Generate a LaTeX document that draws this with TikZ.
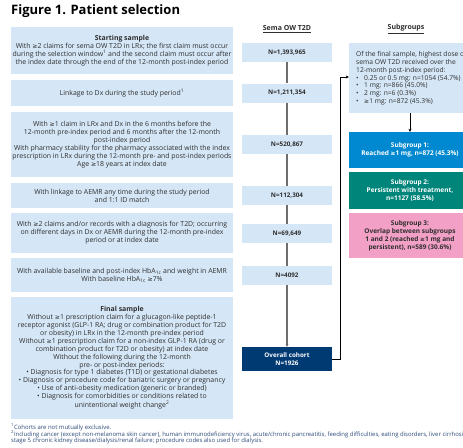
\documentclass[tikz,border=0pt]{standalone}
\usepackage{fontspec}
\setmainfont{Open Sans}
\newfontfamily\symf{DejaVu Sans}
\newcommand\gsym{{\symf\scalebox{0.9}{≥}}}
\usetikzlibrary{arrows.meta}
\definecolor{lb}{HTML}{D5E7F7}
\definecolor{txt}{HTML}{2E2E2E}
\definecolor{navy}{HTML}{003A73}
\definecolor{sgone}{HTML}{0089D1}
\definecolor{sgtwo}{HTML}{00857A}
\definecolor{sgthree}{HTML}{F2A0C6}
\definecolor{fnote}{HTML}{2B4A7A}
\definecolor{gline}{HTML}{6E6E6E}
\begin{document}
\begin{tikzpicture}[x=1pt,y=-1pt,
  lbox/.style={fill=lb, draw=none, inner sep=0pt, align=center, text=txt,
    font=\fontsize{6.9}{7.9}\selectfont, minimum width=222},
  mbox/.style={fill=lb, draw=none, inner sep=0pt, align=center, text=txt,
    font=\bfseries\fontsize{6.3}{7.9}\selectfont, minimum width=90, minimum height=19},
  sgbox/.style={draw=none, inner sep=0pt, align=center, text=white,
    font=\bfseries\fontsize{6.5}{7.9}\selectfont, minimum width=122},
  hdr/.style={inner sep=0pt, text=txt, font=\bfseries\fontsize{7}{8}\selectfont},
  grayline/.style={draw=gline, line width=1.3pt},
  blackline/.style={draw=black, line width=0.9pt},
  fn/.style={inner sep=0pt, anchor=west, text=fnote, font=\fontsize{5.95}{6.5}\selectfont}
]
\useasboundingbox (0,0) rectangle (463,447);
\fill[white] (0,0) rectangle (463,447);

% title
\node[anchor=west, inner sep=0pt, text=black, font=\bfseries\fontsize{13}{14}\selectfont] (title) at (11,11) {Figure 1. Patient selection};

% headers
\node[hdr] (h1) at (287,29) {\underline{Sema OW T2D}};
\node[hdr] (h2) at (406,29) {\underline{Subgroups}};

% left boxes
\node[lbox, minimum height=47] (l1) at (122,50.5) {\textbf{Starting sample}\\With \gsym2 claims for sema OW T2D in LRx; the first claim must occur\\during the selection window\textsuperscript{1} and the second claim must occur after\\the index date through the end of the 12-month post-index period};
\node[lbox, minimum height=26] (l2) at (122,93) {Linkage to Dx during the study period\textsuperscript{1}};
\node[lbox, minimum height=65] (l3) at (122,144.5) {With \gsym1 claim in LRx and Dx in the 6 months before the\\12-month pre-index period and 6 months after the 12-month\\post-index period\\With pharmacy stability for the pharmacy associated with the index\\prescription in LRx during the 12-month pre- and post-index periods\\Age \gsym18 years at index date};
\node[lbox, minimum height=25] (l4) at (122,195.5) {With linkage to AEMR any time during the study period\\and 1:1 ID match};
\node[lbox, minimum height=40] (l5) at (122,233) {With \gsym2 claims and/or records with a diagnosis for T2D; occurring\\on different days in Dx or AEMR during the 12-month pre-index\\period or at index date};
\node[lbox, minimum height=34] (l6) at (122,275) {With available baseline and post-index HbA\textsubscript{1c} and weight in AEMR\\With baseline HbA\textsubscript{1c} \gsym7\%};
\node[lbox, minimum height=122] (l7) at (122,358) {\textbf{Final sample}\\Without \gsym1 prescription claim for a glucagon-like peptide-1\\receptor agonist (GLP-1 RA; drug or combination product for T2D\\or obesity) in LRx in the 12-month pre-index period\\Without \gsym1 prescription claim for a non-index GLP-1 RA (drug or\\combination product for T2D or obesity) at index date\\Without the following during the 12-month\\pre- or post-index periods:\\• Diagnosis for type 1 diabetes (T1D) or gestational diabetes\\• Diagnosis or procedure code for bariatric surgery or pregnancy\\• Use of anti-obesity medication (generic or branded)\\• Diagnosis for comorbidities or conditions related to\\unintentional weight change\textsuperscript{2}};

% middle boxes
\node[mbox] (m1) at (287,52.5) {N=1,393,965};
\node[mbox] (m2) at (287,93) {N=1,211,354};
\node[mbox] (m3) at (287,144.5) {N=520,867};
\node[mbox] (m4) at (287,195.5) {N=112,304};
\node[mbox] (m5) at (287,233.5) {N=69,649};
\node[mbox] (m6) at (287,275.5) {N=4092};
\node[mbox, fill=navy, text=white, minimum height=24] (mo) at (287,359) {Overall cohort\\N=1926};

\draw[grayline] (m1) -- (m2);
\draw[grayline] (m2) -- (m3);
\draw[grayline] (m3) -- (m4);
\draw[grayline] (m4) -- (m5);
\draw[grayline] (m5) -- (m6);
\draw[grayline, -{Stealth[length=3pt,width=3pt]}] (m6) -- (mo);

% subgroups
\node[fill=lb, draw=none, inner sep=0pt, minimum width=122, minimum height=70] (sg) at (410,78) {};
\node[anchor=north west, inner sep=0pt, align=left, text=txt, font=\fontsize{6.7}{7.9}\selectfont] (sgt) at (356,51) {Of the final sample, highest dose of\\sema OW T2D received over the\\12-month post-index period:\\\makebox[8pt][l]{•}0.25 or 0.5 mg: n=1054 (54.7\%)\\\makebox[8pt][l]{•}1 mg: n=866 (45.0\%)\\\makebox[8pt][l]{•}2 mg: n=6 (0.3\%)\\\makebox[8pt][l]{•}\gsym1 mg: n=872 (45.3\%)};

\node[sgbox, fill=sgone, minimum height=36] (s1) at (410,150) {Subgroup 1:\\Reached \gsym1 mg, n=872 (45.3\%)};
\node[sgbox, fill=sgtwo, minimum height=37] (s2) at (410,190.5) {Subgroup 2:\\Persistent with treatment,\\n=1127 (58.5\%)};
\node[sgbox, fill=sgthree, text=txt, minimum height=45] (s3) at (410,235.5) {Subgroup 3:\\Overlap between subgroups\\1 and 2 (reached \gsym1 mg and\\persistent), n=589 (30.6\%)};

\draw[blackline, -{Stealth[length=3pt,width=3pt]}] (sg.south) -- (s1.north);

\coordinate (elbow) at (340,77);
\draw[blackline, -{Stealth[length=3pt,width=3pt]}] (mo.east) -- (mo.east -| elbow) -- (elbow) -- (elbow -| sg.west);

% footnotes
\node[fn] (f1) at (11,427) {\textsuperscript{1}Cohorts are not mutually exclusive.};
\node[fn] (f2) at (11,434) {\textsuperscript{2}Including cancer (except non-melanoma skin cancer), human immunodeficiency virus, acute/chronic pancreatitis, feeding difficulties, eating disorders, liver cirrhosis,};
\node[fn] (f3) at (11,441) {stage 5 chronic kidney disease/dialysis/renal failure; procedure codes also used for dialysis.};
\end{tikzpicture}
\end{document}
